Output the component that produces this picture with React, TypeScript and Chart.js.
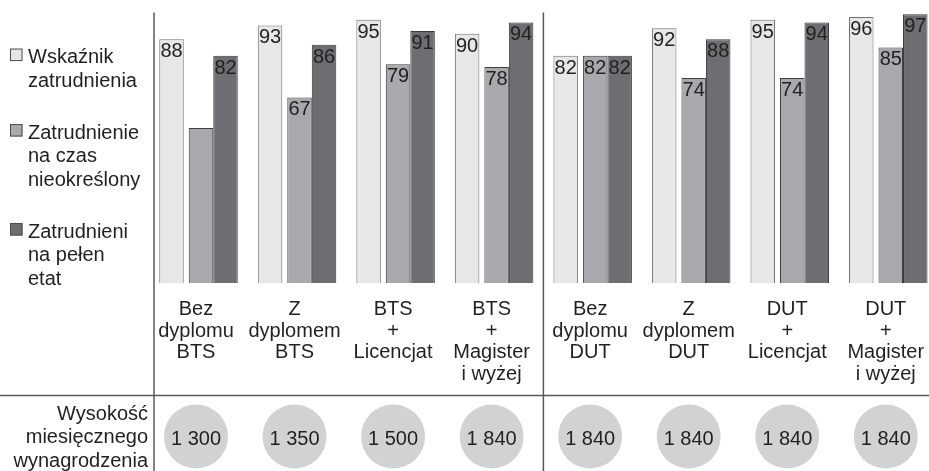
import { useEffect, useRef } from "react";
import { Chart, registerables } from "chart.js";
import type { Plugin } from "chart.js";

Chart.register(...registerables);

// Education levels (x axis), one multi-line label each
const categories: string[][] = [
  ["Bez", "dyplomu", "BTS"],
  ["Z", "dyplomem", "BTS"],
  ["BTS", "+", "Licencjat"],
  ["BTS", "+", "Magister", "i wyżej"],
  ["Bez", "dyplomu", "DUT"],
  ["Z", "dyplomem", "DUT"],
  ["DUT", "+", "Licencjat"],
  ["DUT", "+", "Magister", "i wyżej"],
];

// Percentages per education level
const employmentRate = [88, 93, 95, 90, 82, 92, 95, 96];
const permanentContract = [56, 67, 79, 78, 82, 74, 74, 85];
const fullTime = [82, 86, 91, 94, 82, 88, 94, 97];

// Which values are printed on the bars (the first open-ended bar has no figure)
const employmentRatePrinted = [true, true, true, true, true, true, true, true];
const permanentContractPrinted = [false, true, true, true, true, true, true, true];
const fullTimePrinted = [true, true, true, true, true, true, true, true];

// Monthly net salary per education level
const monthlySalary = [1300, 1350, 1500, 1840, 1840, 1840, 1840, 1840];

const seriesNames: string[][] = [
  ["Wskaźnik", "zatrudnienia"],
  ["Zatrudnienie", "na czas", "nieokreślony"],
  ["Zatrudnieni", "na pełen", "etat"],
];
const salaryTitle = ["Wysokość", "miesięcznego", "wynagrodzenia"];

// Last BTS category; the DUT block starts right after it
const lastBtsIndex = 3;

const FONT = '"Liberation Sans", Arial, Helvetica, sans-serif';
const TEXT = "#231f20";
const RULE = "#58595b";
const FILLS = ["#e6e7e8", "#a7a9ac", "#6d6e71"];
const EDGES = ["#6f7072", "#3d3d3f", "#3a3a3c"];
const CIRCLE = "#d1d2d4";

const printedFlags = [employmentRatePrinted, permanentContractPrinted, fullTimePrinted];

const formatSalary = (n: number) => String(n).replace(/\B(?=(\d{3})+(?!\d))/g, " ");

// Figures written inside the top of each bar
const valueLabels: Plugin<"bar"> = {
  id: "valueLabels",
  afterDatasetsDraw(chart) {
    const { ctx } = chart;
    ctx.save();
    ctx.font = `20px ${FONT}`;
    ctx.fillStyle = TEXT;
    ctx.textAlign = "center";
    ctx.textBaseline = "alphabetic";
    chart.data.datasets.forEach((ds, di) => {
      const meta = chart.getDatasetMeta(di);
      meta.data.forEach((el, i) => {
        if (!printedFlags[di][i]) return;
        const p = el.getProps(["x", "y"], true) as { x: number; y: number };
        const v = (ds.data[i] as { y: number }).y;
        ctx.fillText(String(v), p.x, p.y + 17.8);
      });
    });
    ctx.restore();
  },
};

// Series key on the left, multi-line entries
const legendPanel: Plugin<"bar"> = {
  id: "legendPanel",
  afterDraw(chart) {
    const { ctx } = chart;
    const lineH = 23.5;
    const entryGap = 28.5;
    const box = 12.5;
    let y = 55.8; // cap-height centre of the first line
    ctx.save();
    ctx.font = `20px ${FONT}`;
    ctx.textAlign = "left";
    ctx.textBaseline = "alphabetic";
    chart.data.datasets.forEach((ds, di) => {
      const lines = seriesNames[di];
      ctx.fillStyle = ds.backgroundColor as string;
      ctx.fillRect(10, y - box / 2 - 1, box, box);
      ctx.strokeStyle = "#4d4d4f";
      ctx.lineWidth = 1;
      ctx.strokeRect(10.5, y - box / 2 - 0.5, box - 1, box - 1);
      ctx.fillStyle = TEXT;
      lines.forEach((t, li) => ctx.fillText(t, 28, y + 7.2 + li * lineH));
      y += lines.length * lineH + entryGap;
    });
    ctx.restore();
  },
};

// Frame rules and the salary row underneath
const salaryRow: Plugin<"bar"> = {
  id: "salaryRow",
  afterDraw(chart) {
    const { ctx, chartArea } = chart;
    const xs = chart.scales.x;
    const W = chart.width;
    const H = chart.height;
    const rowLine = 395.5;
    const rowMid = 436.5;
    const labelOffset = (xs.options.ticks as { labelOffset: number }).labelOffset;

    const lastBts = chart.getDatasetMeta(2).data[lastBtsIndex].getProps(["x", "width"], true) as { x: number; width: number };
    const firstDut = chart.getDatasetMeta(0).data[lastBtsIndex + 1].getProps(["x", "width"], true) as { x: number; width: number };
    const divider = (lastBts.x + lastBts.width / 2 + firstDut.x - firstDut.width / 2) / 2;

    ctx.save();
    ctx.strokeStyle = RULE;
    ctx.lineWidth = 1.5;
    ctx.beginPath();
    ctx.moveTo(chartArea.left, 12.5);
    ctx.lineTo(chartArea.left, H);
    ctx.moveTo(divider, 12.5);
    ctx.lineTo(divider, H);
    ctx.moveTo(0, rowLine);
    ctx.lineTo(W, rowLine);
    ctx.stroke();

    ctx.font = `20px ${FONT}`;
    ctx.textBaseline = "alphabetic";
    ctx.textAlign = "right";
    ctx.fillStyle = TEXT;
    salaryTitle.forEach((t, i) => ctx.fillText(t, chartArea.left - 6, 419.8 + i * 23.5));

    ctx.textAlign = "center";
    monthlySalary.forEach((v, i) => {
      const cx = xs.getPixelForValue(i) + labelOffset;
      ctx.fillStyle = CIRCLE;
      ctx.beginPath();
      ctx.arc(cx, rowMid, 32, 0, Math.PI * 2);
      ctx.fill();
      ctx.fillStyle = TEXT;
      ctx.fillText(formatSalary(v), cx, rowMid + 8.2);
    });
    ctx.restore();
  },
};

export default function App() {
  const ref = useRef<HTMLCanvasElement>(null);

  useEffect(() => {
    const canvas = ref.current;
    if (!canvas) return;
    const series = [employmentRate, permanentContract, fullTime];
    const chart = new Chart(canvas, {
      type: "bar",
      data: {
        datasets: series.map((values, di) => ({
          label: seriesNames[di].join(" "),
          data: values.map((y, i) => ({ x: i, y })),
          backgroundColor: FILLS[di],
          borderColor: EDGES[di],
          borderWidth: 1,
          categoryPercentage: di === 0 ? 0.898 : 0.746,
          barPercentage: di === 0 ? 0.83 : 1,
        })),
      },
      options: {
        responsive: false,
        animation: false,
        layout: { padding: { left: 154, right: 0, top: 6, bottom: 78 } },
        plugins: {
          legend: { display: false },
          tooltip: { enabled: false },
        },
        scales: {
          x: {
            type: "linear",
            min: -0.477,
            max: 7.388,
            offset: false,
            grid: { display: false },
            border: { display: false },
            ticks: {
              stepSize: 1,
              autoSkip: false,
              maxRotation: 0,
              minRotation: 0,
              includeBounds: false,
              padding: 8,
              labelOffset: -5,
              color: TEXT,
              font: { family: FONT, size: 20, lineHeight: 1.075 },
              callback: (v) => categories[v as number] ?? null,
            },
            afterFit: (s) => {
              s.paddingLeft = 0;
              s.paddingRight = 0;
            },
          },
          y: { display: false, min: 0, max: 100 },
        },
      },
      plugins: [valueLabels, legendPanel, salaryRow],
    });
    return () => chart.destroy();
  }, []);

  return (
    <div style={{ position: "absolute", left: 0, top: 0, width: 929, height: 471, background: "#fff" }}>
      <canvas ref={ref} width={929} height={471} style={{ display: "block" }} />
    </div>
  );
}
